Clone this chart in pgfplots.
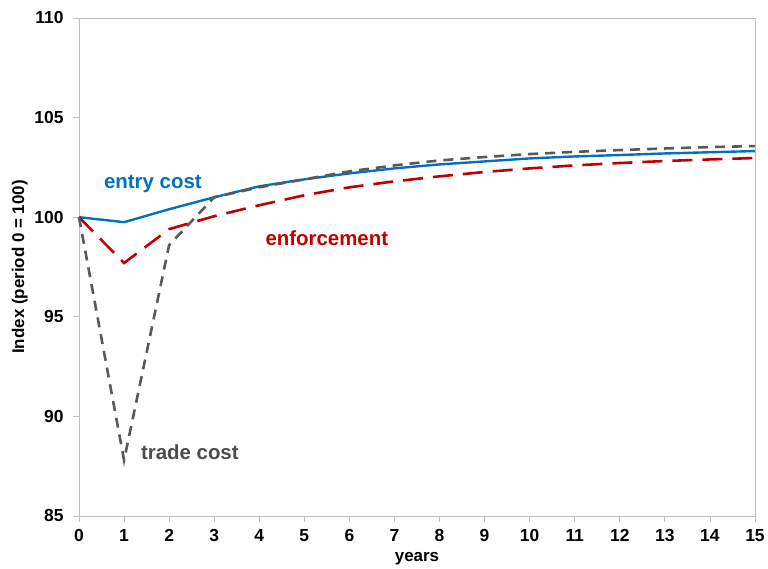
\documentclass[border=0pt]{standalone}
\usepackage{pgfplots}
\pgfplotsset{compat=1.18}
\usepackage{fontspec}
\setmainfont{Liberation Sans}
\definecolor{entryblue}{RGB}{0,112,192}
\definecolor{enfred}{RGB}{192,0,0}
\definecolor{tradegray}{RGB}{89,89,89}
\definecolor{axgray}{RGB}{191,191,191}
\begin{document}
\begin{tikzpicture}
\begin{axis}[
  scale only axis,
  width=676bp, height=498bp,
  xmin=0, xmax=15, ymin=85, ymax=110,
  xtick={0,1,...,15},
  ytick={85,90,...,110},
  axis line style={axgray, line width=0.8pt},
  tick style={axgray, line width=0.8pt},
  tick align=outside,
  major tick length=6bp,
  xtick pos=bottom, ytick pos=left,
  ticklabel style={font=\fontsize{17.5}{20}\selectfont\bfseries, black},
  /pgf/number format/assume math mode=true,
  xticklabel style={yshift=-4bp},
  yticklabel style={xshift=-6bp},
  xlabel={years},
  ylabel={Index (period 0 = 100)},
  label style={font=\fontsize{17}{20}\selectfont\bfseries, black},
  xlabel style={yshift=-4bp},
  ylabel style={yshift=0bp},
  clip=false,
]
% entry cost
\addplot[entryblue, line width=2.4pt] coordinates {
  (0,100) (1,99.75) (2,100.4) (3,101.0) (4,101.55) (5,101.9) (6,102.2)
  (7,102.45) (8,102.65) (9,102.8) (10,102.95) (11,103.05) (12,103.12)
  (13,103.2) (14,103.26) (15,103.32)
};
% enforcement
\addplot[enfred, line width=2.6pt, dash pattern=on 20bp off 10bp] coordinates {
  (0,100) (1,97.7) (2,99.4) (3,100.05) (4,100.6) (5,101.1) (6,101.5)
  (7,101.8) (8,102.05) (9,102.27) (10,102.45) (11,102.6) (12,102.72)
  (13,102.82) (14,102.9) (15,102.97)
};
% trade cost
\addplot[tradegray, line width=2.6pt, dash pattern=on 10bp off 7bp] coordinates {
  (0,100) (1,87.8) (2,98.6) (3,101.0) (4,101.5) (5,101.9) (6,102.3)
  (7,102.6) (8,102.85) (9,103.02) (10,103.17) (11,103.28) (12,103.37)
  (13,103.45) (14,103.52) (15,103.57)
};
\node[entryblue, font=\fontsize{20.5}{24}\selectfont\bfseries] at (axis cs:1.64,101.67) {entry cost};
\node[enfred, font=\fontsize{20.5}{24}\selectfont\bfseries] at (axis cs:5.50,98.96) {enforcement};
\node[tradegray!85!black, font=\fontsize{20.5}{24}\selectfont\bfseries] at (axis cs:2.46,88.21) {trade cost};
\path (rel axis cs:0,0) ++(-79bp,-53bp) (rel axis cs:1,1) ++(13bp,18bp);
\end{axis}
\end{tikzpicture}
\end{document}
